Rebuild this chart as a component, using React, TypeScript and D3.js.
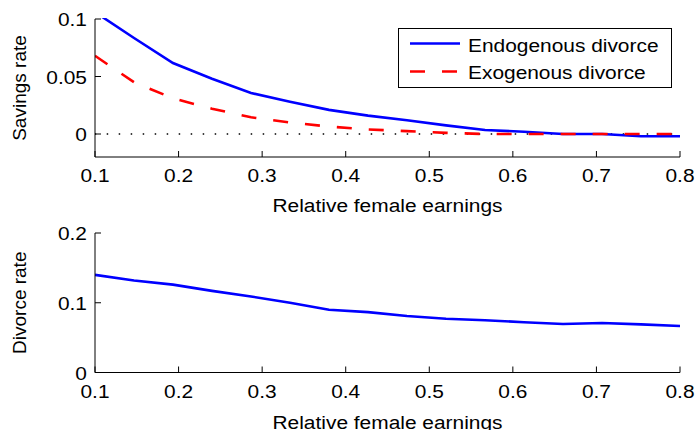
import * as d3 from "d3";

// relative female earnings grid (16 points)
const earnings = [0.1, 0.1467, 0.1933, 0.24, 0.2867, 0.3333, 0.38, 0.4267, 0.4733, 0.52, 0.5667, 0.6133, 0.66, 0.7067, 0.7533, 0.8];

// savings rate
const savingsEndogenous = [0.106, 0.0835, 0.0617, 0.048, 0.0357, 0.028, 0.021, 0.016, 0.012, 0.0075, 0.0035, 0.002, 0.0, 0.0, -0.002, -0.002];
const savingsExogenous = [0.068, 0.045, 0.031, 0.022, 0.0145, 0.01, 0.0065, 0.004, 0.0025, 0.001, 0.0, 0.0, 0.0, 0.0, 0.0, 0.0];

// divorce rate
const divorceRate = [0.14, 0.132, 0.126, 0.117, 0.109, 0.1, 0.09, 0.0865, 0.081, 0.077, 0.075, 0.072, 0.0695, 0.071, 0.069, 0.0667];

const xTicks = [0.1, 0.2, 0.3, 0.4, 0.5, 0.6, 0.7, 0.8];
const savingsTicks = [0, 0.05, 0.1];
const divorceTicks = [0, 0.1, 0.2];
const legendLabels = ["Endogenous divorce", "Exogenous divorce"];

const W = 696;
const H = 430;
const left = 95;
const right = 680;
const font = "'Liberation Sans', Arial, Helvetica, sans-serif";
const fs = 19;
const sx = 1.1; // the figure is slightly stretched horizontally

function HText({ x, y, anchor = "middle", children }: { x: number; y: number; anchor?: string; children: any }) {
  return (
    <text
      transform={`translate(${x},${y}) scale(${sx},1)`}
      textAnchor={anchor}
      fontFamily={font}
      fontSize={fs}
      fill="#000"
    >
      {children}
    </text>
  );
}

function Panel({
  yDomain,
  top,
  bottom,
  yTicks,
  yLabel,
  children,
  id,
}: {
  yDomain: [number, number];
  top: number;
  bottom: number;
  yTicks: number[];
  yLabel: string;
  children: (x: d3.ScaleLinear<number, number>, y: d3.ScaleLinear<number, number>) => any;
  id: string;
}) {
  const x = d3.scaleLinear().domain([0.1, 0.8]).range([left, right]);
  const y = d3.scaleLinear().domain(yDomain).range([bottom, top]);
  const tick = 6;
  return (
    <g>
      <defs>
        <clipPath id={id}>
          <rect x={left} y={top - 1} width={right - left + 2} height={bottom - top + 1} />
        </clipPath>
      </defs>
      <g clipPath={`url(#${id})`}>{children(x, y)}</g>
      {/* axes */}
      <path d={`M${left},${top}V${bottom}H${right}`} fill="none" stroke="#000" strokeWidth={1} />
      {xTicks.map((t) => (
        <g key={t}>
          <line x1={x(t)} x2={x(t)} y1={bottom} y2={bottom - tick} stroke="#000" />
          <HText x={x(t)} y={bottom + 25}>
            {d3.format("")(t)}
          </HText>
        </g>
      ))}
      {yTicks.map((t) => (
        <g key={t}>
          <line x1={left} x2={left + tick} y1={y(t)} y2={y(t)} stroke="#000" />
          <HText x={left - 8} y={y(t) + 7} anchor="end">
            {d3.format("")(t)}
          </HText>
        </g>
      ))}
      <text
        transform={`translate(26,${(top + bottom) / 2}) rotate(-90)`}
        textAnchor="middle"
        fontFamily={font}
        fontSize={fs}
      >
        {yLabel}
      </text>
    </g>
  );
}

export default function App() {
  const pts = (vals: number[]) => earnings.map((e, i) => [e, vals[i]] as [number, number]);

  return (
    <svg width={W} height={H} style={{ position: "absolute", left: 0, top: 0, background: "#fff" }}>
      <Panel
        id="clipTop"
        yDomain={[-0.02, 0.1]}
        top={19}
        bottom={157}
        yTicks={savingsTicks}
        yLabel="Savings rate"
      >
        {(x, y) => {
          const line = d3
            .line<[number, number]>()
            .x((d) => x(d[0]))
            .y((d) => y(d[1]));
          return (
            <g>
              <line
                x1={x(0.1)}
                x2={x(0.8)}
                y1={y(0)}
                y2={y(0)}
                stroke="#000"
                strokeWidth={1.4}
                strokeDasharray="1.5 10.5"
                strokeDashoffset={0.3}
              />
              <path d={line(pts(savingsEndogenous)) ?? ""} fill="none" stroke="#0000ff" strokeWidth={2.6} />
              <path
                d={line(pts(savingsExogenous)) ?? ""}
                fill="none"
                stroke="#ff0000"
                strokeWidth={2.6}
                strokeDasharray="15 17"
              />
            </g>
          );
        }}
      </Panel>
      <HText x={(left + right) / 2} y={212}>
        Relative female earnings
      </HText>

      {/* legend */}
      <rect x={398.5} y={28.5} width={273} height={59} fill="#fff" stroke="#000" strokeWidth={1} />
      <line x1={410} x2={460} y1={43.5} y2={43.5} stroke="#0000ff" strokeWidth={2.6} />
      <line x1={410} x2={460} y1={71.5} y2={71.5} stroke="#ff0000" strokeWidth={2.6} strokeDasharray="15 17" />
      <HText x={468} y={51.5} anchor="start">
        {legendLabels[0]}
      </HText>
      <HText x={468} y={78.5} anchor="start">
        {legendLabels[1]}
      </HText>

      <Panel id="clipBottom" yDomain={[0, 0.2]} top={233} bottom={372.5} yTicks={divorceTicks} yLabel="Divorce rate">
        {(x, y) => {
          const line = d3
            .line<[number, number]>()
            .x((d) => x(d[0]))
            .y((d) => y(d[1]));
          return <path d={line(pts(divorceRate)) ?? ""} fill="none" stroke="#0000ff" strokeWidth={2.6} />;
        }}
      </Panel>
      <HText x={(left + right) / 2} y={428.5}>
        Relative female earnings
      </HText>
    </svg>
  );
}
